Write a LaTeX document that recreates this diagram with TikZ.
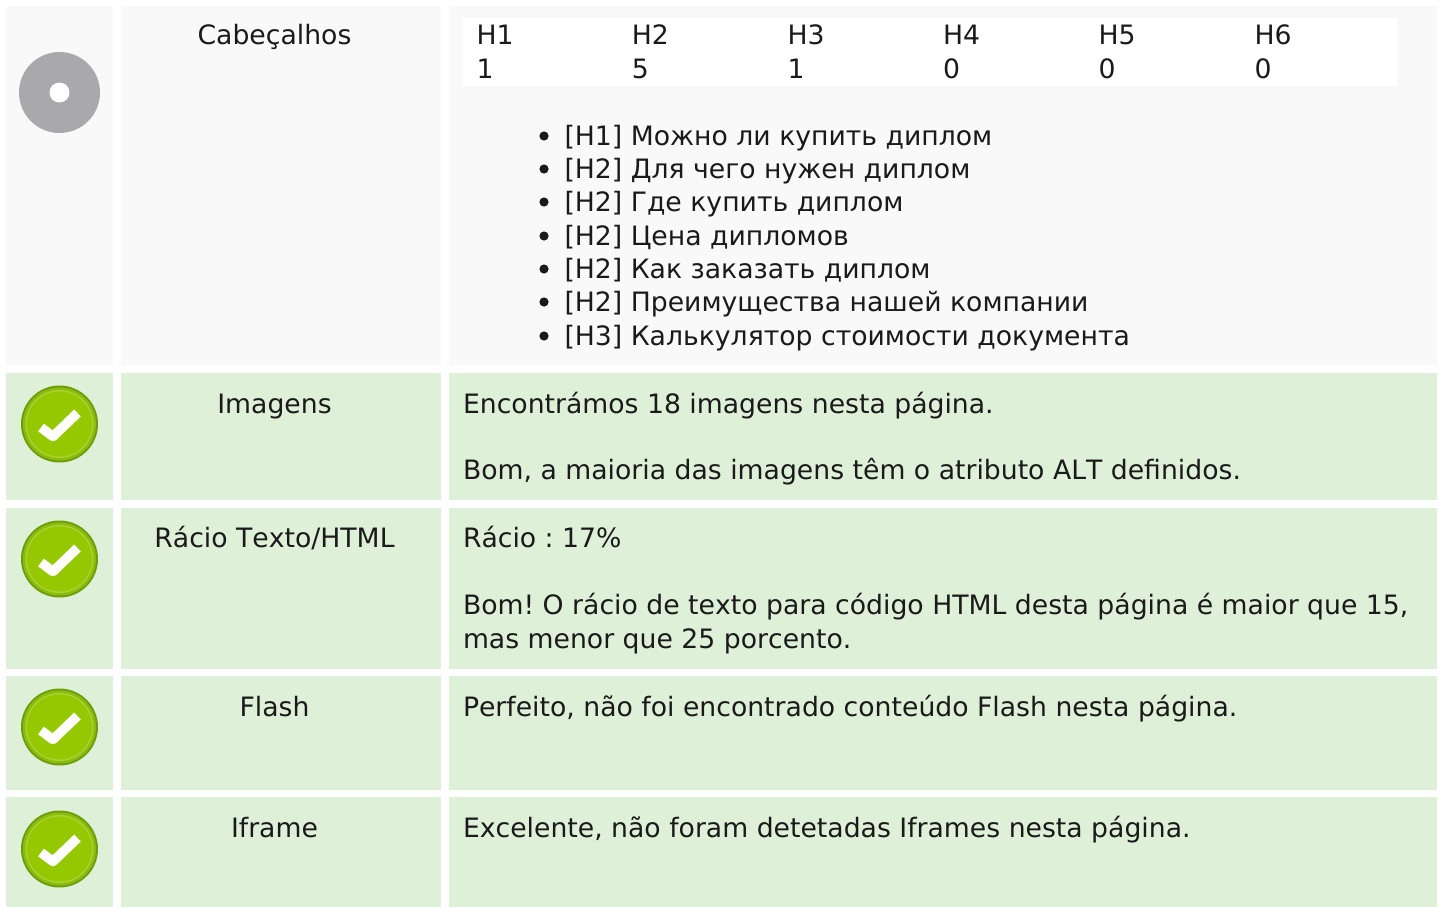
\documentclass[tikz,border=0pt]{standalone}
\usepackage{fontspec}
\setmainfont[Kerning=Off]{DejaVu Sans}
\frenchspacing
\definecolor{grayrow}{HTML}{F9F9F9}
\definecolor{greenrow}{HTML}{DFF0D8}
\definecolor{ink}{HTML}{1A1A1A}
\definecolor{discgray}{HTML}{A9A9AC}
\definecolor{okdark}{HTML}{6B9E0A}
\definecolor{okouter}{HTML}{8DBD0C}
\definecolor{okmid}{HTML}{96C800}
\definecolor{okrim}{HTML}{A9D235}
\newcommand{\cellbox}[5]{\fill[#5] (#1,#3) rectangle (#2,#4);}
\newcommand{\okicon}[2]{%
  \fill[okdark] (#1,#2) circle (38.5);
  \fill[okouter] (#1,#2) circle (36.5);
  \fill[okrim] (#1,#2) circle (34);
  \fill[okmid] (#1,#2) circle (32.5);
  \draw[white,line width=9.5,line cap=butt,line join=round] (#1-18.5,#2+3.5) -- (#1-6.5,#2+12.5) -- (#1+18,#2-11);
}
\tikzset{
  x=1pt,y=-1pt,
  txt/.style={font=\fontsize{26.67}{33}\selectfont,text=ink,anchor=base west,inner sep=0pt,outer sep=0pt},
  lab/.style={font=\fontsize{26.67}{33}\selectfont,text=ink,anchor=base,inner sep=0pt,outer sep=0pt},
}
\begin{document}
\begin{tikzpicture}
\useasboundingbox (0,0) rectangle (1443,907);
\fill[white] (0,0) rectangle (1443,907);
% row backgrounds
\cellbox{6}{113}{6}{365}{grayrow}
\cellbox{121}{441}{6}{365}{grayrow}
\cellbox{449}{1437}{6}{365}{grayrow}
\foreach \ya/\yb in {373/499.5,508/668.5,676/789.5,797/907}{
  \fill[greenrow] (6,\ya) rectangle (113,\yb);
  \fill[greenrow] (121,\ya) rectangle (441,\yb);
  \fill[greenrow] (449,\ya) rectangle (1437,\yb);
}
% icons
\fill[discgray] (59.5,92.5) circle (40.5);
\fill[white] (59.5,92.5) circle (10);
\okicon{59.5}{424}
\okicon{59.5}{559}
\okicon{59.5}{727}
\okicon{59.5}{849}
% labels
\node[lab] (l1) at (274.5,45) {Cabeçalhos};
\node[lab] (l2) at (274.5,413) {Imagens};
\node[lab] (l3) at (274.5,547) {Rácio Texto/HTML};
\node[lab] (l4) at (274.5,716) {Flash};
\node[lab] (l5) at (274.5,837) {Iframe};
% heading table
\fill[white] (463,18) rectangle (1397,86);
\foreach \n/\xx/\h/\v in {a/476.5/H1/1,b/631.8/H2/5,c/787.5/H3/1,d/943/H4/0,e/1098.6/H5/0,f/1254.5/H6/0}{
  \node[txt] (h\n) at (\xx,45) {\h};
  \node[txt] (v\n) at (\xx,78) {\v};
}
% list
\foreach \n/\yy/\t in {
  1/145/{[H1] Можно ли купить диплом},
  2/178/{[H2] Для чего нужен диплом},
  3/211/{[H2] Где купить диплом},
  4/245/{[H2] Цена дипломов},
  5/278/{[H2] Как заказать диплом},
  6/311/{[H2] Преимущества нашей компании},
  7/345/{[H3] Калькулятор стоимости документа}}{
  \fill[ink] (544,\yy-9) circle (4.6);
  \node[txt] (li\n) at (564.5,\yy) {\t};
}
% right column
\node[txt] (t1) at (463,413) {Encontrámos 18 imagens nesta página.};
\node[txt] (t2) at (463,479) {Bom, a maioria das imagens têm o atributo ALT definidos.};
\node[txt] (t3) at (463,547) {Rácio : 17\%};
\node[txt] (t4) at (463,614) {Bom! O rácio de texto para código HTML desta página é maior que 15,};
\node[txt] (t5) at (463,648) {mas menor que 25 porcento.};
\node[txt] (t6) at (463,716) {Perfeito, não foi encontrado conteúdo Flash nesta página.};
\node[txt] (t7) at (463,837) {Excelente, não foram detetadas Iframes nesta página.};
\end{tikzpicture}
\end{document}
